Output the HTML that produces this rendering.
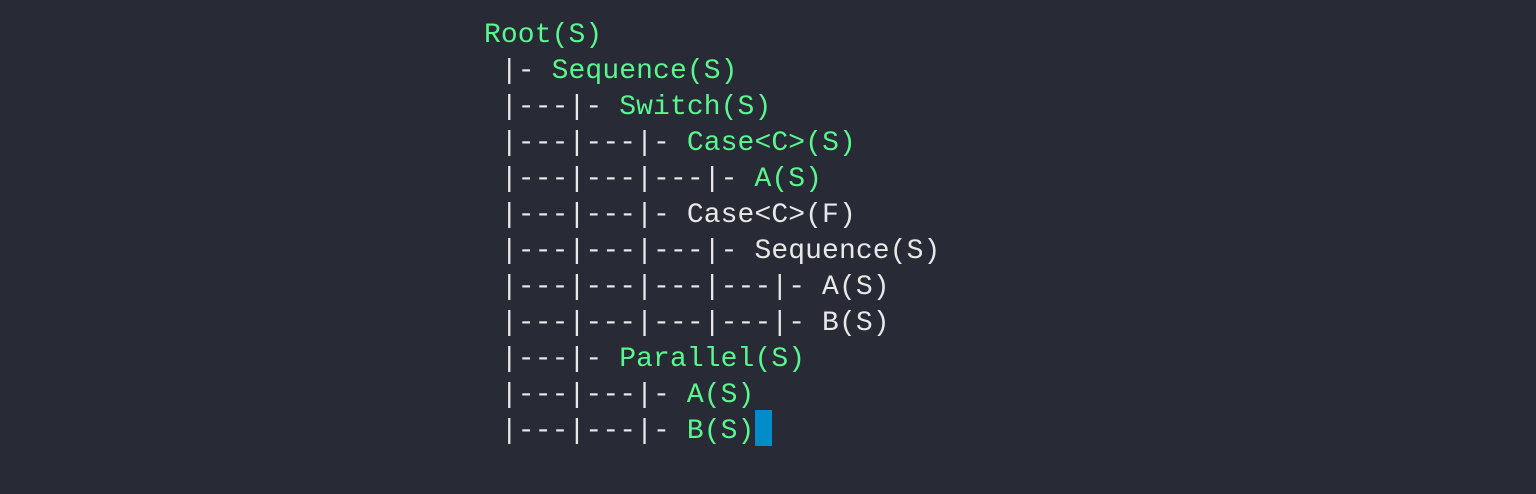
<!DOCTYPE html>
<html><head><meta charset="utf-8"><style>
html,body{margin:0;padding:0;background:#282a36;width:1536px;height:494px;overflow:hidden}
pre{position:absolute;left:484px;top:18px;margin:0;font-family:"Liberation Mono","DejaVu Sans Mono",monospace;font-size:28px;line-height:36px;color:#e8e8e8;letter-spacing:0.1px}
.g{color:#5af78e}
.c{display:inline-block;width:17px;height:36px;background:#008cc8;vertical-align:top;position:relative;top:-4px;margin-left:1px}
</style></head><body>
<pre><span class="g">Root(S)</span>
 |- <span class="g">Sequence(S)</span>
 |---|- <span class="g">Switch(S)</span>
 |---|---|- <span class="g">Case&lt;C&gt;(S)</span>
 |---|---|---|- <span class="g">A(S)</span>
 |---|---|- Case&lt;C&gt;(F)
 |---|---|---|- Sequence(S)
 |---|---|---|---|- A(S)
 |---|---|---|---|- B(S)
 |---|- <span class="g">Parallel(S)</span>
 |---|---|- <span class="g">A(S)</span>
 |---|---|- <span class="g">B(S)</span><span class="c"></span></pre>
</body></html>
